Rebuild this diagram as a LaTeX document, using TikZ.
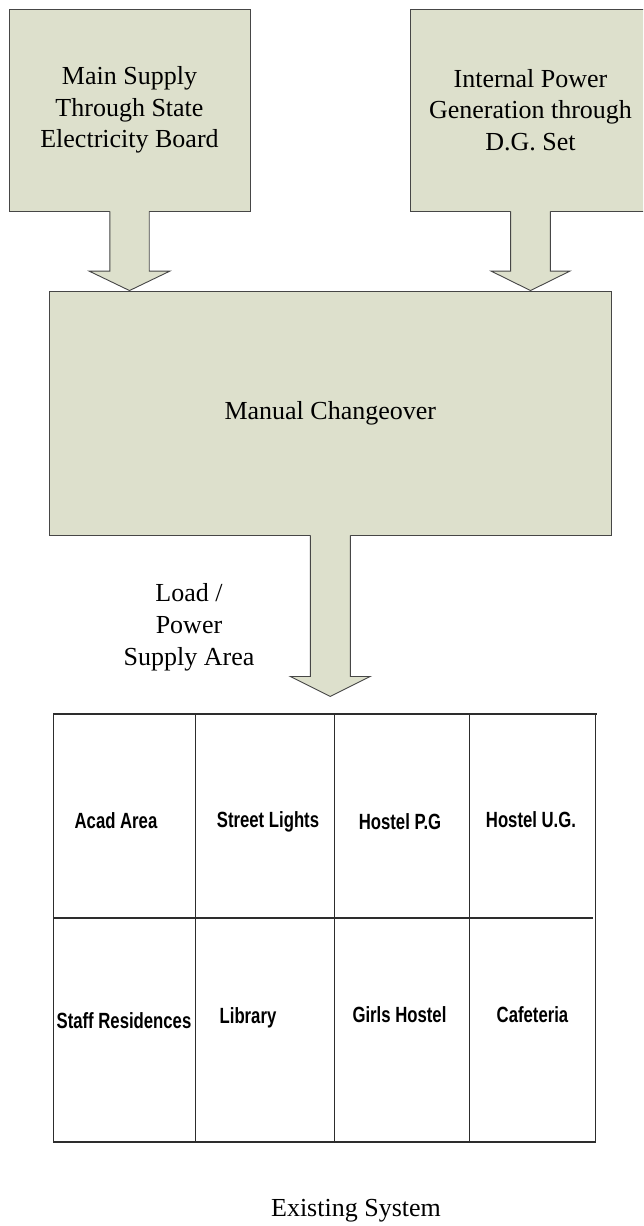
\documentclass[tikz,border=0pt]{standalone}
\usepackage{fontspec}
\setmainfont{Liberation Serif}
\newfontfamily\cellfont[FakeStretch=0.76]{Liberation Sans}
\usetikzlibrary{calc}

\definecolor{boxfill}{RGB}{221,224,204}
\definecolor{boxline}{RGB}{70,70,70}
\definecolor{gridline}{RGB}{45,45,45}

% Block arrow from a box edge (#1) down to a tip (#2);
% #3 = shaft half-width, #4 = head half-width, #5 = head length
\newcommand\feedarrow[5]{%
  \fill[boxfill] let \p1=(#1), \p2=(#2) in
    (\x2-#3,\y1+1pt) -- (\x2-#3,\y2+#5) -- (\x2-#4,\y2+#5) -- (\x2,\y2)
    -- (\x2+#4,\y2+#5) -- (\x2+#3,\y2+#5) -- (\x2+#3,\y1+1pt) -- cycle;
  \draw[arrowline] let \p1=(#1), \p2=(#2) in
    (\x2-#3,\y1) -- (\x2-#3,\y2+#5) -- (\x2-#4,\y2+#5) -- (\x2,\y2)
    -- (\x2+#4,\y2+#5) -- (\x2+#3,\y2+#5) -- (\x2+#3,\y1);
}

\begin{document}
\begin{tikzpicture}[x=1pt,y=-1pt,
  block/.style={draw=boxline, fill=boxfill, line width=0.9pt, inner sep=0pt,
    align=center, font=\fontsize{26}{31.5}\selectfont},
  arrowline/.style={draw=boxline, line width=0.9pt, line join=miter},
  note/.style={align=center, inner sep=0pt, font=\fontsize{26}{32}\selectfont},
  area/.style={inner sep=0pt, font=\cellfont\bfseries\fontsize{22}{26}\selectfont},
  gridrule/.style={draw=gridline, line width=1.3pt},
  gridedge/.style={draw=gridline, line width=1.8pt},
  ]
\clip (0,0) rectangle (643,1226);
\fill[white] (0,0) rectangle (643,1226);

% sources
\node[block, minimum width=241, minimum height=202] (seb) at (129.5,110)
  {Main Supply\\Through State\\Electricity Board};
\node[block, minimum width=241, minimum height=202] (dg) at (530.5,110)
  {Internal Power\\Generation through\\D.G. Set};

% changeover
\node[block, minimum width=561.4, minimum height=244] (manual) at (330.3,413)
  {Manual Changeover};

% feeds into the changeover
\feedarrow{seb.south}{manual.north -| seb.south}{19.7pt}{40.5pt}{19.5pt}
\feedarrow{dg.south}{manual.north -| dg.south}{19.9pt}{39.5pt}{19.5pt}

% output to the load area
\coordinate (loadtip) at ($(manual.south)+(0,161)$);
\feedarrow{manual.south}{loadtip}{20pt}{40pt}{20pt}
\node[note] (loadtext) at (189,627) {Load /\\Power\\Supply Area};

% load area grid
\coordinate (g00) at (53.4,714);
\coordinate (g10) at (195.8,714);
\coordinate (g20) at (334.7,714);
\coordinate (g30) at (469.4,714);
\coordinate (g40) at (595.7,714);
\draw[gridedge] (g00) -- (596.6,714);
\draw[gridedge] (53.4,1142) -- (596.4,1142);
\draw[gridedge] (53.4,918) -- (593,918);
\foreach \c in {g00,g10,g20,g30,g40}
  \draw[gridrule] (\c) -- ($(\c)+(0,428)$);

% areas
\node[area] (acad)   at (116,821)  {Acad Area};
\node[area] (street) at (268,822)  {Street Lights};
\node[area] (pg)     at (400,822)  {Hostel P.G};
\node[area] (ug)     at (531,820)  {Hostel U.G.};
\node[area] (staff)  at (124,1021) {Staff Residences};
\node[area] (lib)    at (248,1018) {Library};
\node[area] (girls)  at (399.5,1015) {Girls Hostel};
\node[area] (cafe)   at (532.5,1015) {Cafeteria};

% caption
\node[inner sep=0pt, anchor=base, font=\fontsize{26}{31.5}\selectfont] (caption)
  at (356,1216) {Existing System};
\end{tikzpicture}
\end{document}
